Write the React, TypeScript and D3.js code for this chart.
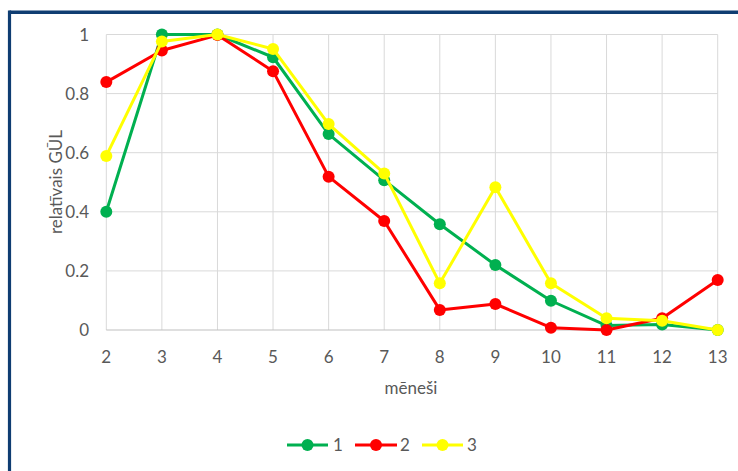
import React from "react";
import * as d3 from "d3";

const months = [2, 3, 4, 5, 6, 7, 8, 9, 10, 11, 12, 13];
const series1 = [0.40, 1.0, 1.0, 0.923, 0.663, 0.507, 0.358, 0.22, 0.099, 0.015, 0.019, 0.0];
const series2 = [0.839, 0.946, 0.998, 0.876, 0.519, 0.369, 0.068, 0.088, 0.008, 0.0, 0.04, 0.169];
const series3 = [0.589, 0.976, 1.0, 0.951, 0.697, 0.53, 0.158, 0.483, 0.158, 0.04, 0.031, 0.0];
const seriesNames = ["1", "2", "3"];
const seriesColors = ["#00b050", "#ff0000", "#ffff00"];
const yTicks = [0, 0.2, 0.4, 0.6, 0.8, 1];
const yTickLabels = ["0", "0.2", "0.4", "0.6", "0.8", "1"];
const xTitle = "mēneši";
const yTitle = "relatīvais GŪL";

const W = 738;
const H = 471;
const FONT = "Lato, 'Open Sans', sans-serif";
const TEXT = "#595959";

export default function App() {
  const x = d3.scaleLinear().domain([2, 13]).range([106.3, 717.7]);
  const y = d3.scaleLinear().domain([0, 1]).range([330, 34.5]);
  const allSeries = [series1, series2, series3];
  const line = d3
    .line<number>()
    .x((_, i) => x(months[i]))
    .y((d) => y(d));

  const legendItems = [
    { x0: 287, x1: 328, label: 333 },
    { x0: 355, x1: 397, label: 400 },
    { x0: 422, x1: 463, label: 467 },
  ];
  const legendY = 445;

  return (
    <svg
      width={W}
      height={H}
      style={{ position: "absolute", left: 0, top: 0, background: "#fff" }}
    >
      <rect x={0} y={0} width={W} height={H} fill="#ffffff" />
      {/* frame */}
      <line x1={9.5} y1={12.2} x2={W + 5} y2={12.2} stroke="#0f3d72" strokeWidth={3.6} />
      <line x1={9.5} y1={10.5} x2={9.5} y2={H + 5} stroke="#0f3d72" strokeWidth={3.2} />

      {/* gridlines */}
      {months.map((m) => (
        <line
          key={"vx" + m}
          x1={x(m)}
          x2={x(m)}
          y1={y(1)}
          y2={y(0)}
          stroke="#d9d9d9"
          strokeWidth={1}
        />
      ))}
      {yTicks.map((t) =>
        t === 0 ? null : (
          <line
            key={"hy" + t}
            x1={x(2)}
            x2={x(13)}
            y1={y(t)}
            y2={y(t)}
            stroke="#d9d9d9"
            strokeWidth={1}
          />
        )
      )}
      <line x1={x(2)} x2={x(13)} y1={y(0)} y2={y(0)} stroke="#bfbfbf" strokeWidth={1.2} />

      {/* y tick labels */}
      {yTicks.map((t, i) => (
        <text
          key={"yl" + t}
          x={89}
          y={y(t) + 6}
          textAnchor="end"
          fontFamily={FONT}
          fontSize={17}
          fill={TEXT}
        >
          {yTickLabels[i]}
        </text>
      ))}
      {/* x tick labels */}
      {months.map((m) => (
        <text
          key={"xl" + m}
          x={x(m)}
          y={363}
          textAnchor="middle"
          fontFamily={FONT}
          fontSize={17}
          fill={TEXT}
        >
          {m}
        </text>
      ))}
      {/* axis titles */}
      <text
        x={411}
        y={394}
        textAnchor="middle"
        fontFamily={FONT}
        fontSize={17}
        fill={TEXT}
      >
        {xTitle}
      </text>
      <text
        transform={`translate(62,182) rotate(-90)`}
        textAnchor="middle"
        fontFamily={FONT}
        fontSize={17}
        fill={TEXT}
      >
        {yTitle}
      </text>

      {/* series */}
      {allSeries.map((s, si) => (
        <g key={"s" + si}>
          <path
            d={line(s) || ""}
            fill="none"
            stroke={seriesColors[si]}
            strokeWidth={3}
            strokeLinejoin="round"
          />
          {s.map((v, i) => (
            <circle
              key={i}
              cx={x(months[i])}
              cy={y(v)}
              r={6}
              fill={seriesColors[si]}
            />
          ))}
        </g>
      ))}

      {/* legend */}
      {legendItems.map((it, i) => (
        <g key={"lg" + i}>
          <line
            x1={it.x0}
            x2={it.x1}
            y1={legendY}
            y2={legendY}
            stroke={seriesColors[i]}
            strokeWidth={3}
          />
          <circle cx={(it.x0 + it.x1) / 2} cy={legendY} r={6} fill={seriesColors[i]} />
          <text
            x={it.label}
            y={legendY + 6}
            fontFamily={FONT}
            fontSize={17}
            fill={TEXT}
          >
            {seriesNames[i]}
          </text>
        </g>
      ))}
    </svg>
  );
}
